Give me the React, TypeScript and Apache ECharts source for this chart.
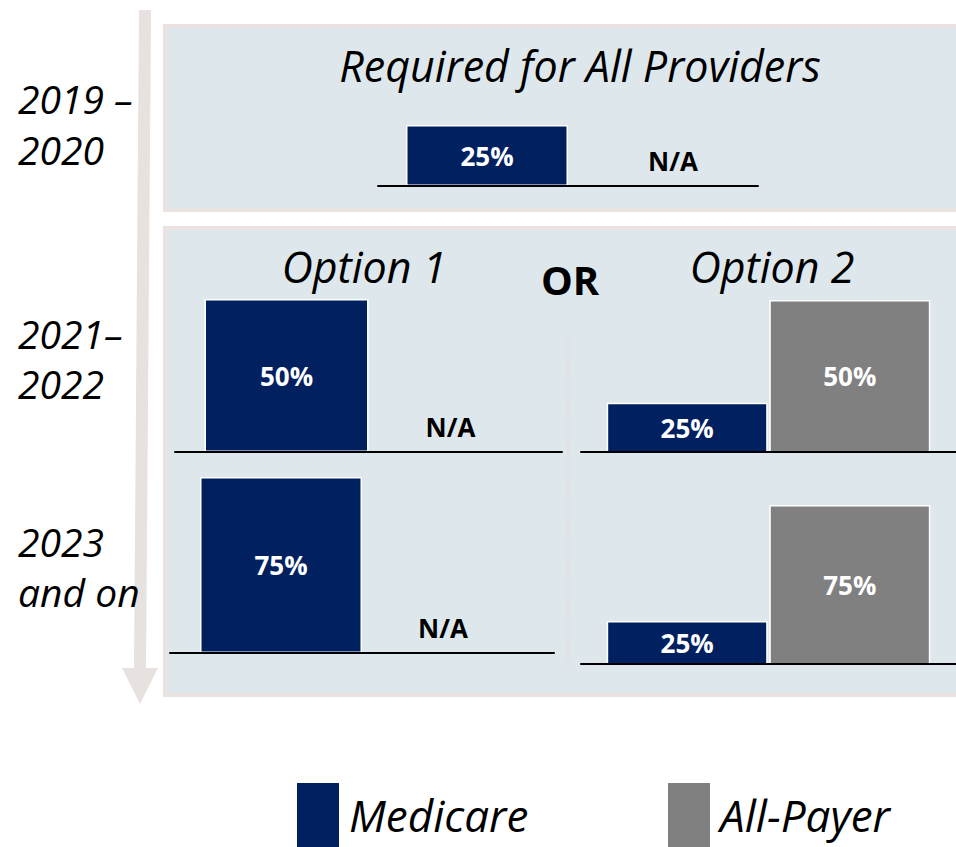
import { useEffect, useRef } from 'react';
import * as echarts from 'echarts';

// ---------- data ----------
const CATEGORY = ['Required share'];
const SERIES_NAMES = ['Medicare', 'All-Payer'];
const PERIOD_LABELS = [
  ['2019 –', '2020'],
  ['2021–', '2022'],
  ['2023', 'and on'],
];
const TOP_TITLE = 'Required for All Providers';
const OPTION_TITLES = ['Option 1', 'Option 2'];
const OR_TEXT = 'OR';
const NA_TEXT = 'N/A';
// values in percent, null = not applicable
const req2019Medicare = [25];
const req2019AllPayer = [null];
const option1Medicare = [50, 75]; // 2021–2022, 2023 and on
const option1AllPayer = [null, null];
const option2Medicare = [25, 25];
const option2AllPayer = [50, 75];

// ---------- styles / layout ----------
const NAVY = '#002060';
const GRAY = '#808080';
const PANEL_FILL = '#dee8ec';
const PANEL_BORDER = '#ebe3e1';
const ARROW = '#e7e1df';
const FONT = '"Open Sans", "Noto Sans", sans-serif';

const GRIDS = [
  { left: 378, top: 64, width: 380, height: 122, min: 0, max: 50, barWidth: 162, barGap: '0%', naOffset: [24, 0] },
  { left: 175, top: 299, width: 387, height: 153, min: 0, max: 50, barWidth: 164, barGap: '0%', naOffset: [0, 0] },
  { left: 170, top: 477, width: 384, height: 176, min: 0, max: 75, barWidth: 162, barGap: '0%', naOffset: [0, 0] },
  { left: 581, top: 300, width: 380, height: 152, min: 13, max: 50, barWidth: 161, barGap: '1%', naOffset: [0, 0] },
  { left: 581, top: 505, width: 380, height: 159, min: 6.5, max: 75, barWidth: 161, barGap: '1%', naOffset: [0, 0] },
];

const GRID_DATA: [number | null, number | null][] = [
  [req2019Medicare[0], req2019AllPayer[0]],
  [option1Medicare[0], option1AllPayer[0]],
  [option1Medicare[1], option1AllPayer[1]],
  [option2Medicare[0], option2AllPayer[0]],
  [option2Medicare[1], option2AllPayer[1]],
];

const valueLabel = {
  show: true,
  position: 'inside',
  formatter: '{c}%',
  color: '#ffffff',
  fontFamily: FONT,
  fontWeight: 'bold',
  fontSize: 26,
};

function item(v: number | null, naOffset: number[]) {
  if (v === null) {
    return {
      value: 0,
      itemStyle: { color: 'rgba(0,0,0,0)', borderWidth: 0 },
      label: {
        show: true,
        position: 'top',
        distance: 12,
        offset: naOffset,
        formatter: NA_TEXT,
        color: '#000000',
        fontFamily: FONT,
        fontWeight: 'bold',
        fontSize: 26,
      },
    };
  }
  return { value: v };
}

function buildOption() {
  const grid = GRIDS.map((g) => ({ left: g.left, top: g.top, width: g.width, height: g.height }));
  const xAxis = GRIDS.map((g, i) => ({
    type: 'category',
    gridIndex: i,
    data: CATEGORY,
    z: 5,
    axisLine: { show: true, onZero: false, lineStyle: { color: '#000', width: 2 } },
    axisTick: { show: false },
    axisLabel: { show: false },
  }));
  const yAxis = GRIDS.map((g, i) => ({
    type: 'value',
    gridIndex: i,
    min: g.min,
    max: g.max,
    show: false,
    splitLine: { show: false },
  }));
  const series: any[] = [];
  GRIDS.forEach((g, i) => {
    const [med, all] = GRID_DATA[i];
    series.push({
      type: 'bar',
      name: SERIES_NAMES[0],
      xAxisIndex: i,
      yAxisIndex: i,
      barWidth: g.barWidth,
      barGap: g.barGap,
      data: [item(med, g.naOffset)],
      itemStyle: { color: NAVY, borderColor: '#ffffff', borderWidth: 1.5 },
      label: valueLabel,
    });
    series.push({
      type: 'bar',
      name: SERIES_NAMES[1],
      xAxisIndex: i,
      yAxisIndex: i,
      barWidth: g.barWidth,
      barGap: g.barGap,
      data: [item(all, g.naOffset)],
      itemStyle: { color: GRAY, borderColor: '#ffffff', borderWidth: 1.5 },
      label: valueLabel,
    });
  });

  const textStyle = (size: number, italic: boolean, bold = false) => ({
    fontFamily: FONT,
    fontSize: size,
    fontStyle: italic ? 'italic' : 'normal',
    fontWeight: bold ? 'bold' : 'normal',
    fill: '#000',
  });

  const periodY = [[98, 149], [333, 383], [541, 591]];
  const graphic: any[] = [
    // arrow
    {
      type: 'polygon',
      z: 0,
      shape: {
        points: [[139, 10], [151, 10], [146, 668], [158, 668], [140, 704], [122, 668], [134, 668]],
      },
      style: { fill: ARROW },
    },
    // panels
    {
      type: 'rect', z: 0,
      shape: { x: 165, y: 26, width: 800, height: 184 },
      style: { fill: PANEL_FILL, stroke: PANEL_BORDER, lineWidth: 4 },
    },
    {
      type: 'rect', z: 0,
      shape: { x: 165, y: 228, width: 800, height: 467 },
      style: { fill: PANEL_FILL, stroke: PANEL_BORDER, lineWidth: 4 },
    },
    // divider
    {
      type: 'line', z: 1,
      shape: { x1: 568, y1: 340, x2: 568, y2: 668 },
      style: { stroke: '#eadcd8', lineWidth: 2, lineDash: [6, 4] },
    },
    // titles
    {
      type: 'text', z: 1, x: 580, y: 65,
      style: { ...textStyle(43, true), text: TOP_TITLE, align: 'center', verticalAlign: 'middle' },
    },
    {
      type: 'text', z: 1, x: 364, y: 266,
      style: { ...textStyle(43, true), text: OPTION_TITLES[0], align: 'center', verticalAlign: 'middle' },
    },
    {
      type: 'text', z: 1, x: 772, y: 266,
      style: { ...textStyle(43, true), text: OPTION_TITLES[1], align: 'center', verticalAlign: 'middle' },
    },
    {
      type: 'text', z: 1, x: 570, y: 279,
      style: { ...textStyle(40, false, true), text: OR_TEXT, align: 'center', verticalAlign: 'middle' },
    },
  ];
  PERIOD_LABELS.forEach((lines, i) => {
    lines.forEach((t, j) => {
      graphic.push({
        type: 'text', z: 1, x: 18, y: periodY[i][j],
        style: { ...textStyle(39, true), text: t, align: 'left', verticalAlign: 'middle' },
      });
    });
  });

  const legendBase = {
    orient: 'horizontal',
    top: 781,
    padding: 0,
    icon: 'rect',
    itemWidth: 44,
    itemHeight: 66,
    selectedMode: false,
    textStyle: { fontFamily: FONT, fontSize: 44, fontStyle: 'italic', color: '#000', padding: [0, 0, 0, 4] },
  };

  return {
    animation: false,
    backgroundColor: '#ffffff',
    grid,
    xAxis,
    yAxis,
    series,
    graphic,
    legend: [
      { ...legendBase, left: 295, data: [SERIES_NAMES[0]] },
      { ...legendBase, left: 666, data: [SERIES_NAMES[1]] },
    ],
  };
}

export default function App() {
  const ref = useRef<HTMLDivElement>(null);
  useEffect(() => {
    if (!ref.current) return;
    const chart = echarts.init(ref.current, undefined, { renderer: 'svg' });
    chart.setOption(buildOption() as any);
    return () => chart.dispose();
  }, []);
  return (
    <div
      ref={ref}
      style={{ position: 'fixed', left: 0, top: 0, width: 956, height: 847 }}
    />
  );
}
